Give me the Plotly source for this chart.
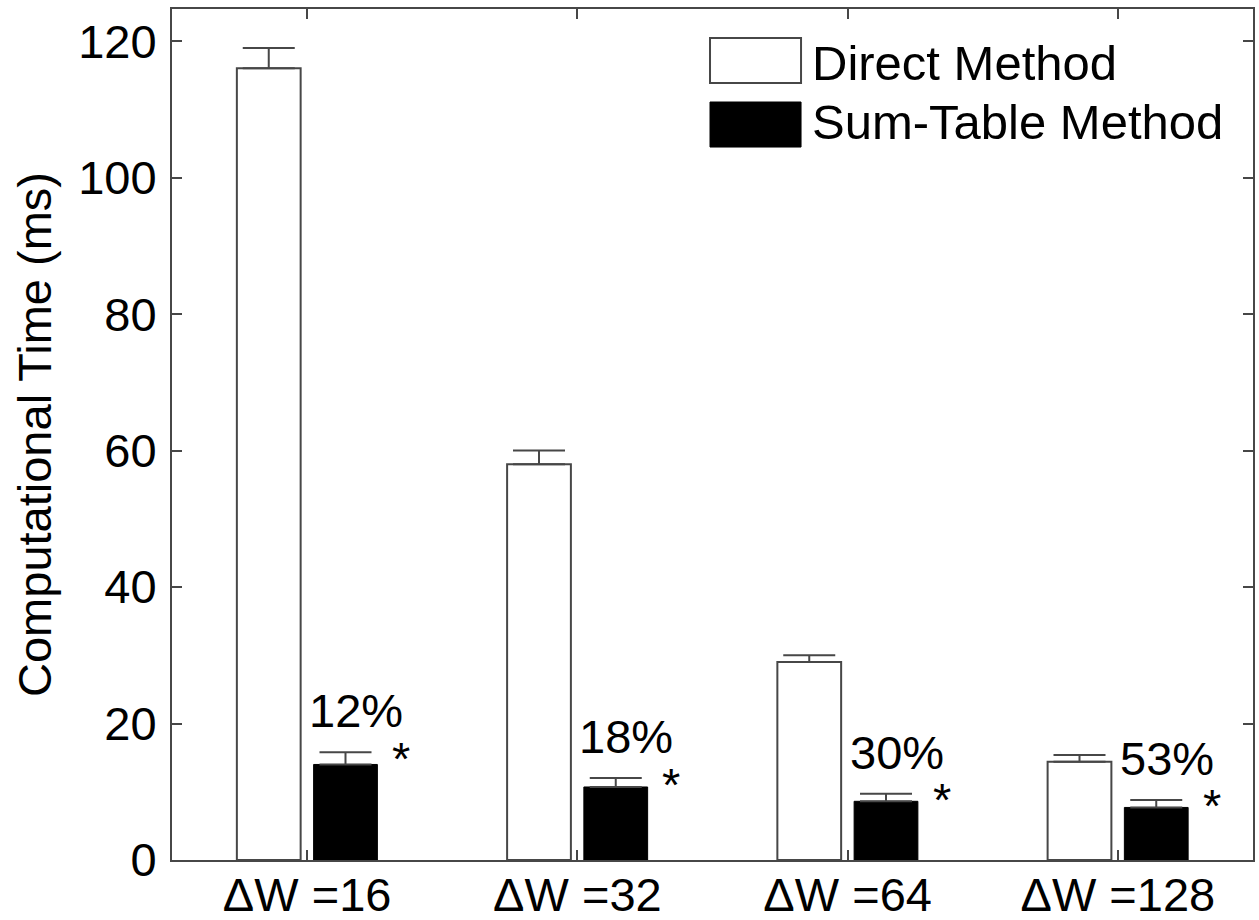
import plotly.graph_objects as go

# Computational time per window size, mean and upper error (ms)
categories = ["ΔW =16", "ΔW =32", "ΔW =64", "ΔW =128"]
direct_ms = [116.0, 58.0, 29.0, 14.4]
direct_err = [3.0, 2.0, 1.0, 1.0]
sumtable_ms = [14.0, 10.7, 8.6, 7.7]
sumtable_err = [1.8, 1.3, 1.1, 1.1]
ratio_labels = ["12%", "18%", "30%", "53%"]
series_names = ["Direct Method", "Sum-Table Method"]

FONT = "Liberation Sans, Arial, Helvetica, sans-serif"
AXIS_COLOR = "#474747"
FS = 47

fig = go.Figure()
fig.add_trace(go.Bar(
    x=categories, y=direct_ms, name=series_names[0],
    marker=dict(color="white", line=dict(color=AXIS_COLOR, width=2)),
    error_y=dict(type="data", array=direct_err, arrayminus=[0] * 4,
                 symmetric=False, color=AXIS_COLOR, thickness=2, width=26),
))
fig.add_trace(go.Bar(
    x=categories, y=sumtable_ms, name=series_names[1],
    marker=dict(color="black", line=dict(color="black", width=1)),
    error_y=dict(type="data", array=sumtable_err, arrayminus=[0] * 4,
                 symmetric=False, color=AXIS_COLOR, thickness=2, width=26),
))

annotations = []
for cat, v, e, lab in zip(categories, sumtable_ms, sumtable_err, ratio_labels):
    top = v + e
    # ratio label above the sum-table bar
    annotations.append(dict(
        x=cat, y=top, xref="x", yref="y", text=lab, showarrow=False,
        xanchor="left", yanchor="bottom", xshift=0, yshift=13,
        font=dict(family=FONT, size=FS, color="black"),
    ))
    # significance marker to the right of the bar
    annotations.append(dict(
        x=cat, y=top, xref="x", yref="y", text="*", showarrow=False,
        xanchor="center", yanchor="middle", xshift=94, yshift=-6,
        font=dict(family=FONT, size=FS, color="black"),
    ))

# legend drawn as swatches and text in the upper right
shapes = [
    dict(type="rect", xref="paper", yref="paper", x0=0.4977, x1=0.5819,
         y0=0.9130, y1=0.9659, fillcolor="white",
         line=dict(color=AXIS_COLOR, width=2)),
    dict(type="rect", xref="paper", yref="paper", x0=0.4977, x1=0.5819,
         y0=0.8378, y1=0.8907, fillcolor="black",
         line=dict(color="black", width=1)),
]
for name, yc in zip(series_names, [0.936, 0.867]):
    annotations.append(dict(
        x=0.590, y=yc, xref="paper", yref="paper", text=name, showarrow=False,
        xanchor="left", yanchor="middle",
        font=dict(family=FONT, size=49, color="black"),
    ))

fig.update_layout(
    width=1259, height=920,
    margin=dict(l=172, r=6, t=9, b=60, autoexpand=False),
    paper_bgcolor="white", plot_bgcolor="white",
    barmode="group", bargap=0.432, bargroupgap=0.169,
    showlegend=False,
    font=dict(family=FONT, size=FS, color="black"),
    annotations=annotations, shapes=shapes,
)
fig.update_xaxes(
    showline=True, linecolor=AXIS_COLOR, linewidth=2, mirror="ticks",
    ticks="inside", ticklen=10, tickwidth=1.5, tickcolor=AXIS_COLOR,
    showgrid=False, zeroline=False, range=[-0.5, 3.5],
    ticklabelstandoff=-7,
    tickfont=dict(family=FONT, size=FS, color="black"),
)
fig.update_yaxes(
    showline=True, linecolor=AXIS_COLOR, linewidth=2, mirror="ticks",
    ticks="inside", ticklen=10, tickwidth=1.5, tickcolor=AXIS_COLOR,
    showgrid=False, zeroline=False, range=[0, 124.7],
    tickvals=[0, 20, 40, 60, 80, 100, 120],
    ticklabelstandoff=4,
    tickfont=dict(family=FONT, size=FS, color="black"),
    title=dict(text="Computational Time (ms)", standoff=12,
               font=dict(family=FONT, size=FS, color="black")),
)

fig.write_html("out.html")
